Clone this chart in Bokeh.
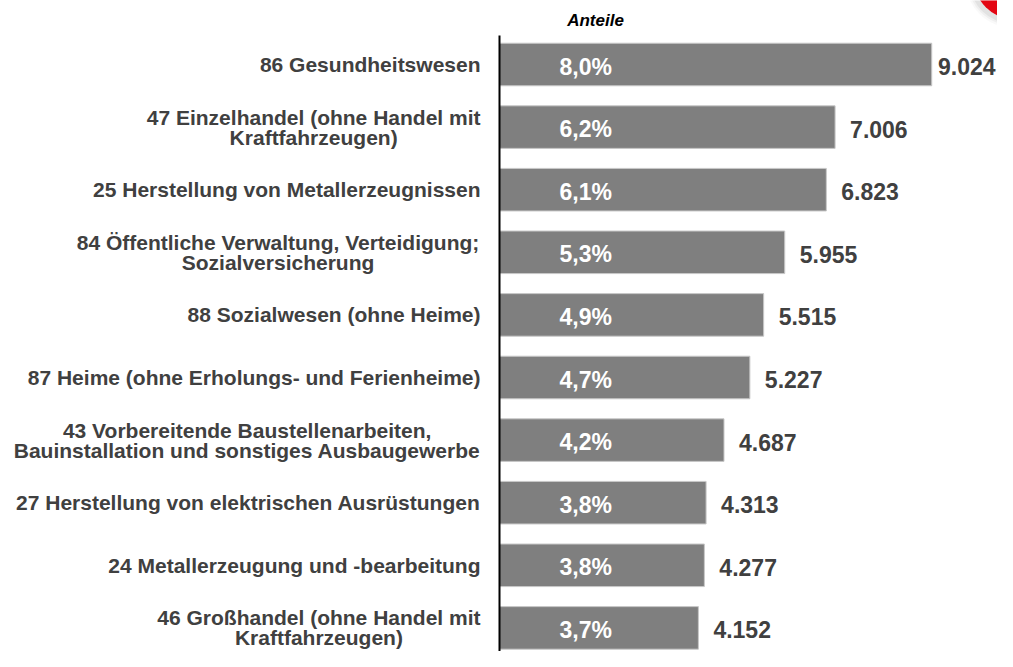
from bokeh.plotting import figure
from bokeh.models import Range1d, ColumnDataSource
from bokeh.core.properties import value
from bokeh.embed import file_html
from bokeh.resources import INLINE

# ---------------- data ----------------
categories = [
    "86 Gesundheitswesen",
    "47 Einzelhandel (ohne Handel mit\nKraftfahrzeugen)",
    "25 Herstellung von Metallerzeugnissen",
    "84 Öffentliche Verwaltung, Verteidigung;\nSozialversicherung",
    "88 Sozialwesen (ohne Heime)",
    "87 Heime (ohne Erholungs- und Ferienheime)",
    "43 Vorbereitende Baustellenarbeiten,\nBauinstallation und sonstiges Ausbaugewerbe",
    "27 Herstellung von elektrischen Ausrüstungen",
    "24 Metallerzeugung und -bearbeitung",
    "46 Großhandel (ohne Handel mit\nKraftfahrzeugen)",
]
values = [9024, 7006, 6823, 5955, 5515, 5227, 4687, 4313, 4277, 4152]
shares = [8.0, 6.2, 6.1, 5.3, 4.9, 4.7, 4.2, 3.8, 3.8, 3.7]
share_header = "Anteile"

# ---------------- layout constants ----------------
W, H = 997, 651
AXIS_PX = 499          # x pixel of the vertical axis line
PPU = 0.0479           # pixels per unit of value
ROW0, ROW = 64.0, 62.6 # first bar centre and row pitch (px)
FONT = "Liberation Sans"
DARK = "#404040"
BAR = "#7f7f7f"
CAT_SIZE, PCT_SIZE, VAL_SIZE = 21, 23, 23
LINE_H = 20

# Arial / Liberation Sans Bold advance widths (per 1000 em)
AW = {" ": 278, "0": 556, "1": 556, "2": 556, "3": 556, "4": 556, "5": 556, "6": 556,
      "7": 556, "8": 556, "9": 556, ".": 278, ",": 278, ";": 333, "-": 333, "(": 333,
      ")": 333, "%": 889, "a": 556, "b": 611, "c": 556, "d": 611, "e": 556, "f": 333,
      "g": 611, "h": 611, "i": 278, "j": 278, "k": 556, "l": 278, "m": 889, "n": 611,
      "o": 611, "p": 611, "q": 611, "r": 389, "s": 556, "t": 333, "u": 611, "v": 556,
      "w": 778, "x": 556, "y": 556, "z": 500, "ß": 611, "ü": 611, "ö": 611, "ä": 556,
      "A": 722, "B": 722, "C": 722, "D": 722, "E": 667, "F": 611, "G": 778, "H": 722,
      "I": 278, "J": 556, "K": 722, "L": 611, "M": 833, "N": 722, "O": 778, "P": 667,
      "Q": 778, "R": 722, "S": 667, "T": 611, "U": 722, "V": 667, "W": 944, "X": 667,
      "Y": 667, "Z": 611, "Ö": 778}


def text_width(s, size):
    return sum(AW.get(c, 556) for c in s) / 1000.0 * size


def fmt_int(v):
    return f"{v:,}".replace(",", ".")


def fmt_pct(v):
    return f"{v:.1f}".replace(".", ",") + "%"


def py(pix):
    """figure pixel (from top) -> row coordinate"""
    return (pix - ROW0) / ROW


def px(pix):
    """figure pixel (from left) -> value coordinate"""
    return (pix - AXIS_PX) / PPU


n = len(categories)
rows = list(range(n))

p = figure(width=W, height=H, output_backend="svg", toolbar_location=None,
           x_range=Range1d(px(0), px(W)), y_range=Range1d(py(H), py(0)),
           min_border=0, background_fill_color="white", border_fill_color="white")
p.axis.visible = False
p.grid.visible = False
p.outline_line_color = None

# red badge in the corner (with soft shadow)
bx, by = px(1015), py(-23)
for k, a in enumerate([0.05, 0.08, 0.12]):
    p.scatter(x=[bx - 3 / PPU], y=[by + 3 / ROW], size=2 * (47 - 2 * k),
              marker="circle", fill_color="#808080", fill_alpha=a, line_color=None)
p.scatter(x=[bx], y=[by], size=84, marker="circle", fill_color="#e30613", line_color=None)

# bars
src = ColumnDataSource(dict(row=rows, val=values))
p.hbar(y="row", left=0, right="val", height=0.68, source=src,
       fill_color=BAR, line_color="#c8c8c8", line_width=1)

# axis line
p.segment(x0=[0], y0=[py(35)], x1=[0], y1=[py(H + 5)], line_color="black", line_width=2)

# category labels: lines centred on each other, block right-aligned
lt, ly, lyo, lxo = [], [], [], []
for i, c in enumerate(categories):
    lines = c.split("\n")
    bw = max(text_width(s, CAT_SIZE) for s in lines)
    for k, s in enumerate(lines):
        lt.append(s)
        ly.append(i)
        lyo.append((k - (len(lines) - 1) / 2.0) * LINE_H)
        lxo.append(-19 - bw / 2.0)
p.text(x=0, y="y", text="t", x_offset="xo", y_offset="yo",
       source=ColumnDataSource(dict(t=lt, y=ly, xo=lxo, yo=lyo)),
       text_align="center", text_baseline="middle", text_font=value(FONT),
       text_font_style="bold", text_font_size=f"{CAT_SIZE}px", text_color=DARK)

# share labels inside bars
p.text(x=0, y="row", text="t", x_offset=60, y_offset=2,
       source=ColumnDataSource(dict(row=rows, t=[fmt_pct(s) for s in shares])),
       text_align="left", text_baseline="middle", text_font=value(FONT),
       text_font_style="bold", text_font_size=f"{PCT_SIZE}px", text_color="white")

# value labels right of bars
vt = [fmt_int(v) for v in values]
vxo = [min(15, W - (AXIS_PX + v * PPU) - text_width(t, VAL_SIZE) - 2) for v, t in zip(values, vt)]
p.text(x="val", y="row", text="t", x_offset="xo", y_offset=2,
       source=ColumnDataSource(dict(row=rows, val=values, t=vt, xo=vxo)),
       text_align="left", text_baseline="middle", text_font=value(FONT),
       text_font_style="bold", text_font_size=f"{VAL_SIZE}px", text_color=DARK)

# column header
p.text(x=[0], y=[py(0)], text=[share_header], x_offset=96, y_offset=20,
       text_align="center", text_baseline="middle", text_font=value(FONT),
       text_font_style="bold italic", text_font_size="17px", text_color="black")

open("out.html", "w").write(file_html(p, INLINE))
